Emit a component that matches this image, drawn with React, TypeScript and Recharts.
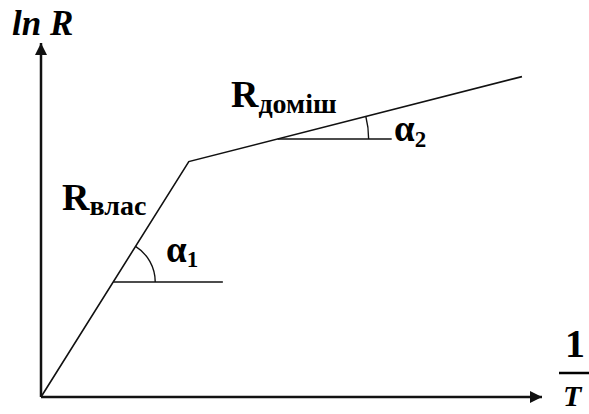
import * as React from 'react';
import { LineChart, Line, XAxis, YAxis, ReferenceLine, Customized } from 'recharts';

// ln R against 1/T: intrinsic branch (steep) and impurity branch (shallow)
const invT = [0, 2.95, 9.6];
const lnR = [0, 6.65, 9.05];

// horizontal reference levels for the slope angles α1, α2 and where they end
const angleLevels = [3.25, 7.29];
const angleEnds = [3.63, 7.0];
const angleNames = ['1', '2'];

const W = 589;
const H = 414;
const MARGIN = { top: 43, right: 47, bottom: 17, left: 41 };
const X_MAX = 10;
const Y_MAX = 10;

const data = invT.map((x, i) => ({ x, y: lnR[i] }));

const plotW = W - MARGIN.left - MARGIN.right;
const plotH = H - MARGIN.top - MARGIN.bottom;
const px = (x: number) => MARGIN.left + (x / X_MAX) * plotW;
const py = (y: number) => MARGIN.top + plotH - (y / Y_MAX) * plotH;

// point on the polyline at a given ln R level
function xAtLevel(level: number): { x: number; seg: number } {
  for (let i = 0; i < invT.length - 1; i++) {
    if (level >= lnR[i] && level <= lnR[i + 1]) {
      const t = (level - lnR[i]) / (lnR[i + 1] - lnR[i]);
      return { x: invT[i] + t * (invT[i + 1] - invT[i]), seg: i };
    }
  }
  return { x: invT[invT.length - 1], seg: invT.length - 2 };
}

const FONT = '"Liberation Serif", "Times New Roman", serif';
const INK = '#111';

function Decorations() {
  const ox = px(0);
  const oy = py(0);
  const tipX = px(X_MAX);
  const tipY = py(Y_MAX);
  const radii = [42, 91];

  return (
    <g>
      {/* arrowheads */}
      <polygon points={`${tipX},${oy} ${tipX - 12},${oy - 6} ${tipX - 12},${oy + 6}`} fill={INK} />
      <polygon points={`${ox},${tipY} ${ox - 6},${tipY + 12} ${ox + 6},${tipY + 12}`} fill={INK} />

      {/* angle arcs */}
      {angleLevels.map((lvl, i) => {
        const { x, seg } = xAtLevel(lvl);
        const cx = px(x);
        const cy = py(lvl);
        const dx = px(invT[seg + 1]) - px(invT[seg]);
        const dy = py(lnR[seg]) - py(lnR[seg + 1]);
        const th = Math.atan2(dy, dx);
        const r = radii[i];
        return (
          <path
            key={angleNames[i]}
            d={`M ${cx + r} ${cy} A ${r} ${r} 0 0 0 ${cx + r * Math.cos(th)} ${cy - r * Math.sin(th)}`}
            fill="none"
            stroke={INK}
            strokeWidth={1.4}
          />
        );
      })}

      <g fontFamily={FONT} fontWeight="bold" fill="#000">
        <text x={12} y={35} fontSize={35} fontStyle="italic">ln R</text>

        <text x={62} y={210} fontSize={38}>
          R<tspan fontSize={28} dy={5}>влас</tspan>
        </text>
        <text x={231} y={107} fontSize={38}>
          R<tspan fontSize={28} dy={6}>доміш</tspan>
        </text>

        <text x={166} y={262} fontSize={37}>
          α<tspan fontSize={23} dy={5}>1</tspan>
        </text>
        <text x={394} y={141} fontSize={37}>
          α<tspan fontSize={23} dy={6}>2</tspan>
        </text>

        <text x={575} y={357} fontSize={40} textAnchor="middle">1</text>
        <line x1={559} x2={592} y1={373} y2={373} stroke="#000" strokeWidth={2.5} />
        <text x={563} y={406} fontSize={30} fontStyle="italic">T</text>
      </g>
    </g>
  );
}

export default function App() {
  return (
    <div style={{ position: 'absolute', left: 0, top: 0, width: W, height: H, background: '#fff' }}>
      <LineChart width={W} height={H} data={data} margin={MARGIN}>
        <XAxis type="number" dataKey="x" domain={[0, X_MAX]} hide />
        <YAxis type="number" domain={[0, Y_MAX]} hide />

        {/* axes */}
        <ReferenceLine segment={[{ x: 0, y: 0 }, { x: X_MAX, y: 0 }]} stroke={INK} strokeWidth={2.5} />
        <ReferenceLine segment={[{ x: 0, y: 0 }, { x: 0, y: Y_MAX }]} stroke={INK} strokeWidth={2.5} />

        {/* horizontal legs of the slope angles */}
        {angleLevels.map((lvl, i) => (
          <ReferenceLine
            key={angleNames[i]}
            segment={[{ x: xAtLevel(lvl).x, y: lvl }, { x: angleEnds[i], y: lvl }]}
            stroke={INK}
            strokeWidth={1.6}
          />
        ))}

        <Line
          type="linear"
          dataKey="y"
          stroke={INK}
          strokeWidth={1.6}
          dot={false}
          isAnimationActive={false}
        />
        <Customized component={Decorations} />
      </LineChart>
    </div>
  );
}
